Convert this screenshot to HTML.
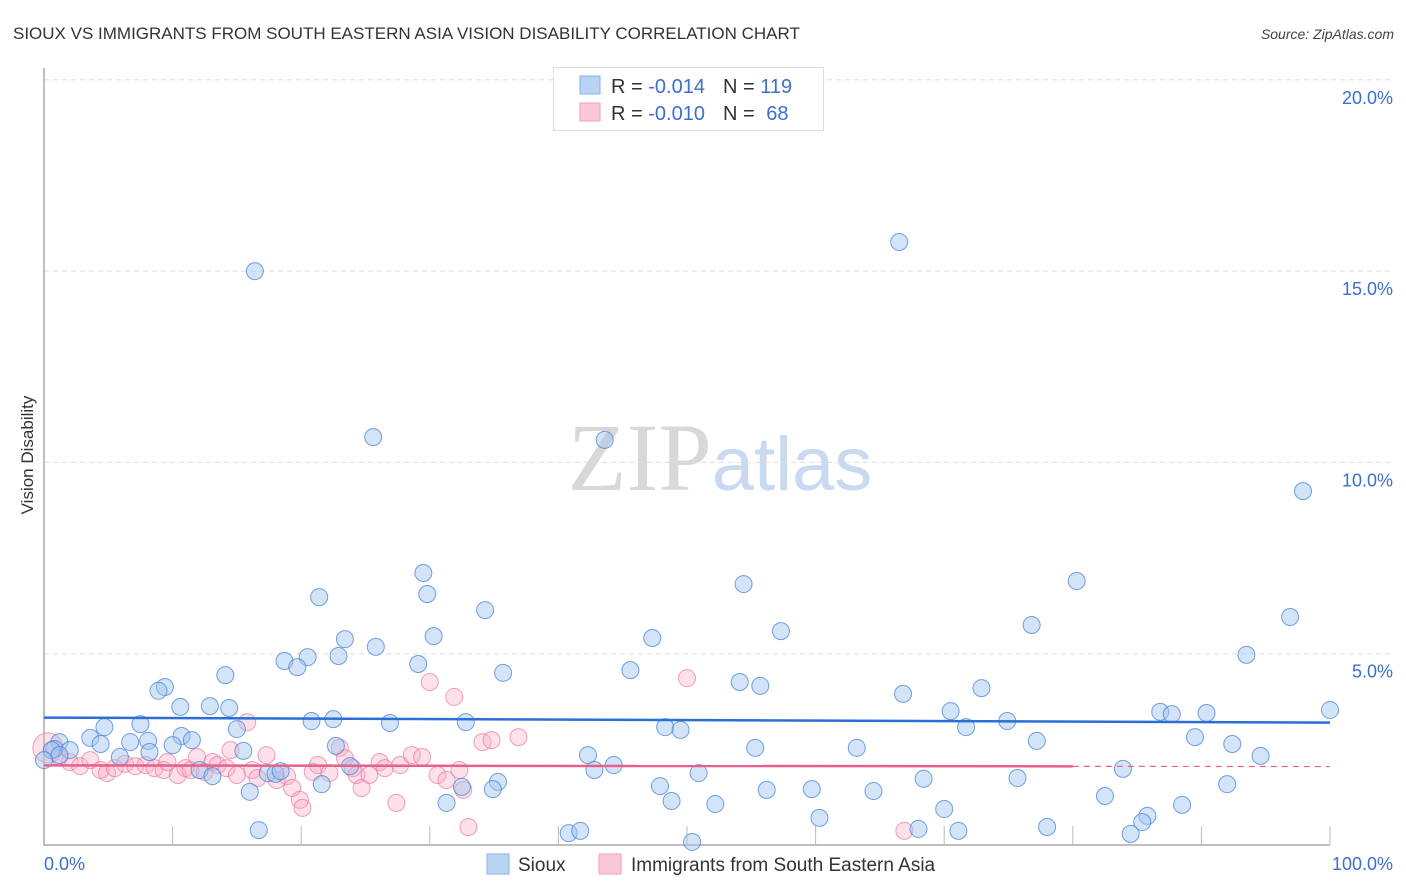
<!DOCTYPE html>
<html><head><meta charset="utf-8"><style>
body{margin:0;background:#fff;font-family:"Liberation Sans",sans-serif}
svg{display:block}
</style></head><body>
<svg id="chart" width="1406" height="892" xmlns="http://www.w3.org/2000/svg">
<text x="13" y="39" font-size="17" fill="#333">SIOUX VS IMMIGRANTS FROM SOUTH EASTERN ASIA VISION DISABILITY CORRELATION CHART</text>
<text x="1394" y="39" font-size="14" fill="#444" text-anchor="end" font-style="italic">Source: ZipAtlas.com</text>
<text x="720" y="490" font-size="96" text-anchor="middle"><tspan fill="#d8d8d8" font-family="Liberation Serif">ZIP</tspan><tspan fill="#c9d9f0" font-size="76">atlas</tspan></text>
<g id="grid"></g>
<g id="axes"></g>
<g id="marks"></g>
<text transform="translate(33,455) rotate(-90)" font-size="17" fill="#333" text-anchor="middle">Vision Disability</text>
<g>
<rect x="553.5" y="67.5" width="270" height="63" fill="#fff" stroke="#ddd"/>
<rect x="580" y="76" width="20" height="18" fill="#b9d3f5" stroke="#88b0e8"/>
<rect x="580" y="103" width="20" height="18" fill="#fbc8d6" stroke="#f0a0b8"/>
<text x="611" y="93" font-size="20" fill="#333">R = <tspan fill="#3a6fd0">-0.014</tspan><tspan dx="18">N = </tspan><tspan fill="#3a6fd0">119</tspan></text>
<text x="611" y="120" font-size="20" fill="#333">R = <tspan fill="#3a6fd0">-0.010</tspan><tspan dx="18">N = </tspan><tspan fill="#3a6fd0" dx="6">68</tspan></text>
</g>
<g>
<rect x="487" y="854" width="22" height="20" fill="#b9d3f5" stroke="#88b0e8"/>
<text x="518" y="871" font-size="19" fill="#333">Sioux</text>
<rect x="599" y="854" width="22" height="20" fill="#fbc8d6" stroke="#f0a0b8"/>
<text x="631" y="871" font-size="19" fill="#333">Immigrants from South Eastern Asia</text>
</g>
</svg>
<script>
const yTicks=[5,10,15,20];
const yTickLabels=["5.0%","10.0%","15.0%","20.0%"];
const xTickLabels=["0.0%","100.0%"];
const siouxX=[16.4,66.5,25.6,43.6,97.9,29.5,80.3,54.4,21.4,29.8,34.3,96.9,57.3,76.8,30.3,23.4,47.3,25.8,93.5,18.7,20.5,22.9,19.7,29.1,45.6,35.7,14.1,9.4,8.9,54.1,55.7,72.9,66.8,10.6,12.9,14.4,70.5,100,86.8,87.7,90.4,7.5,4.7,20.8,22.5,26.9,32.8,48.3,49.5,74.9,71.7,15.0,10.7,6.7,8.1,11.5,3.6,1.2,4.4,0.8,10.0,15.5,22.7,2.0,5.9,8.2,89.5,92.4,77.2,63.2,55.3,94.6,42.3,44.3,42.8,23.8,12.1,13.1,17.4,18.0,18.4,50.9,83.9,75.7,68.4,92.0,47.9,35.3,32.5,34.9,21.6,16.0,56.2,59.7,64.5,82.5,48.8,52.2,31.3,70.0,88.5,60.3,85.8,85.4,68.0,71.1,78.0,84.5,16.7,40.8,41.7,50.4,0.6,1.2,0];
const siouxY=[15.0,15.76,10.66,10.59,9.25,7.11,6.90,6.82,6.48,6.56,6.14,5.96,5.59,5.75,5.46,5.38,5.41,5.18,4.97,4.81,4.91,4.94,4.65,4.73,4.57,4.50,4.44,4.13,4.03,4.26,4.16,4.10,3.95,3.61,3.63,3.58,3.50,3.53,3.48,3.42,3.45,3.16,3.08,3.24,3.29,3.19,3.21,3.08,3.01,3.24,3.08,3.03,2.85,2.69,2.72,2.74,2.80,2.69,2.64,2.51,2.61,2.46,2.59,2.48,2.30,2.43,2.82,2.64,2.72,2.54,2.54,2.33,2.35,2.09,1.96,2.06,1.96,1.80,1.88,1.86,1.93,1.88,1.99,1.75,1.73,1.59,1.54,1.65,1.52,1.46,1.59,1.39,1.44,1.46,1.41,1.28,1.15,1.07,1.10,0.94,1.05,0.71,0.76,0.60,0.42,0.37,0.47,0.29,0.39,0.31,0.37,0.08,2.48,2.35,2.22];
const asiaX=[0.3,1.2,2.0,2.8,3.6,4.4,4.9,5.5,6.3,7.1,7.9,8.6,9.3,9.6,10.4,11.0,11.4,11.9,12.5,13.1,13.5,14.2,14.5,15.0,15.8,16.2,16.6,17.3,18.1,18.9,19.3,19.9,20.1,20.9,21.3,22.2,23.0,23.4,24.0,24.3,24.7,25.3,26.1,26.5,27.4,27.7,28.6,29.4,30.0,30.6,31.3,31.9,32.3,32.6,34.1,34.8,36.9,33.0,50.0,66.9];
const asiaY=[2.54,2.30,2.17,2.06,2.22,1.96,1.88,2.01,2.12,2.06,2.09,2.01,1.96,2.17,1.83,2.01,1.96,2.30,1.91,2.17,2.09,2.01,2.48,1.83,3.21,1.96,1.75,2.35,1.70,1.80,1.49,1.18,0.97,1.91,2.09,1.88,2.54,2.27,2.01,1.83,1.49,1.83,2.17,2.01,1.10,2.09,2.35,2.30,4.26,1.83,1.70,3.87,1.96,1.44,2.69,2.74,2.82,0.47,4.36,0.37];
const siouxTrend=[3.33,3.20];
const asiaTrend=[2.08,2.05];
const asiaTrendEnd=80;

const NS="http://www.w3.org/2000/svg";
const X0=44,X1=1330,Y0=845,PY=38.26;
const sx=v=>X0+(X1-X0)*v/100;
const sy=v=>Y0-v*PY;
function mk(tag,attrs,parent){const e=document.createElementNS(NS,tag);for(const k in attrs)e.setAttribute(k,attrs[k]);parent.appendChild(e);return e;}
const grid=document.getElementById('grid'),axes=document.getElementById('axes'),marks=document.getElementById('marks');
yTicks.forEach((t,i)=>{
  const l=mk('line',{x1:X0,x2:1394,y1:sy(t),y2:sy(t),stroke:'#ddd','stroke-dasharray':'5,4'},grid);
  
  
  const tx=mk('text',{x:1393,y:sy(t)+24,'font-size':18,fill:'#3a6fd0','text-anchor':'end'},axes);
  tx.textContent=yTickLabels[i];
  
  
});
const ax=mk('path',{d:`M${X0} 68V${Y0}H${X1}`,stroke:'#aaa',fill:'none','stroke-width':1.5},axes);


for(let i=1;i<=10;i++){const t=mk('line',{x1:sx(i*10),x2:sx(i*10),y1:826,y2:Y0,stroke:'#bbb'},axes);
  
  }
xTickLabels.forEach((s,i)=>{const t=mk('text',{x:i?1393:44,y:870,'font-size':18,fill:'#3a6fd0','text-anchor':i?'end':'start'},axes);t.textContent=s;
  
  });
asiaX.forEach((x,i)=>{const c=mk('circle',{cx:sx(x),cy:sy(asiaY[i]),r:i===0?15:8.5,fill:'rgba(248,170,195,0.35)',stroke:'rgba(235,120,155,0.7)','stroke-width':1},marks);
  
  });
siouxX.forEach((x,i)=>{const c=mk('circle',{cx:sx(x),cy:sy(siouxY[i]),r:8.5,fill:'rgba(160,195,240,0.45)',stroke:'rgba(70,130,215,0.75)','stroke-width':1},marks);
  
  });
const bt=mk('line',{x1:sx(0),x2:sx(100),y1:sy(siouxTrend[0]),y2:sy(siouxTrend[1]),stroke:'#2a6fd6','stroke-width':2.5},marks);


const midY=asiaTrend[0]+(asiaTrend[1]-asiaTrend[0])*asiaTrendEnd/100;
const pt=mk('line',{x1:sx(0),x2:sx(asiaTrendEnd),y1:sy(asiaTrend[0]),y2:sy(midY),stroke:'#e8608a','stroke-width':2.5},marks);


const pd=mk('line',{x1:sx(asiaTrendEnd),x2:sx(100),y1:sy(midY),y2:sy(asiaTrend[1]),stroke:'#e8608a','stroke-width':1.2,'stroke-dasharray':'6,5'},marks);


</script>
</body></html>
